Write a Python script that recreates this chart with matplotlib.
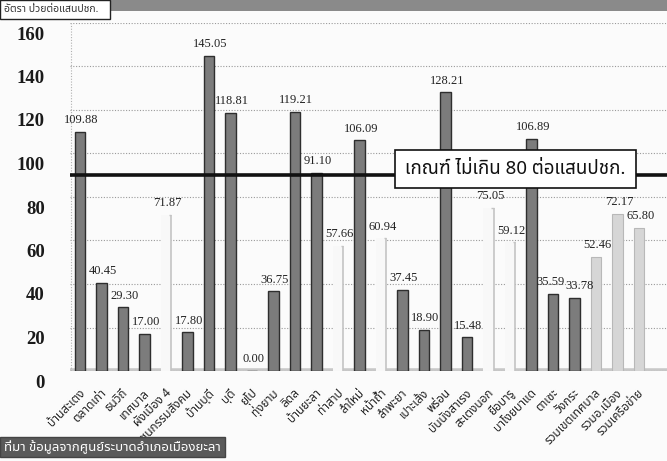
import matplotlib
matplotlib.use('Agg')
import matplotlib.pyplot as plt
from matplotlib import font_manager
from matplotlib.ft2font import FT2Font
import matplotlib.transforms as mtransforms
from matplotlib.patches import Rectangle

# ---------------- data ----------------
categories = ['บ้านสะเตง', 'ตลาดเก่า', 'ธนวิถี', 'เทศบาล', 'ผังเมือง 4', 'ชุมชนกรรมสังคม',
              'บ้านบุดี', 'บุดี', 'ยุโป', 'ทุ่งยาม', 'ลิดล', 'บ้านยะลา', 'ท่าสาป', 'ลำใหม่',
              'หน้าถ้ำ', 'ลำพะยา', 'เปาะเส้ง', 'พร่อน', 'บันนังสาเรง', 'สะเตงนอก', 'ยือบารู',
              'บาโงยบาแด', 'ตาเซะ', 'วังกระ', 'รวมเขตเทศบาล', 'รวมอ.เมือง', 'รวมเครือข่าย']
values = [109.88, 40.45, 29.30, 17.00, 71.87, 17.80, 145.05, 118.81, 0.00, 36.75,
          119.21, 91.10, 57.66, 106.09, 60.94, 37.45, 18.90, 128.21, 15.48, 75.05,
          59.12, 106.89, 35.59, 33.78, 52.46, 72.17, 65.80]
yticks = [0, 20, 40, 60, 80, 100, 120, 140, 160]
criterion_level = 90
criterion_text = 'เกณฑ์ ไม่เกิน 80 ต่อแสนปชก.'
unit_text = 'อัตรา ป่วยต่อแสนปชก.'
source_text = 'ที่มา ข้อมูลจากศูนย์ระบาดอำเภอเมืองยะลา'
# bar style groups: 'd' dark, 'w' near-white, 'l' light grey
bar_style = ['d', 'd', 'd', 'd', 'w', 'd', 'd', 'd', 'd', 'd', 'd', 'd', 'w', 'd',
             'w', 'd', 'd', 'd', 'd', 'w', 'w', 'd', 'd', 'd', 'l', 'l', 'l']
# small horizontal nudges (pixels) for value labels that would collide
label_nudge = {22: -3.5, 23: 3.5}


def find_thai_font():
    prefs = ['Noto Sans Thai', 'Noto Serif Thai', 'Noto Sans Thai Looped', 'Loma', 'Garuda',
             'Norasi', 'Tlwg Typo', 'Kinnari', 'Sarabun', 'Tahoma', 'Leelawadee']
    found = {}
    for f in font_manager.fontManager.ttflist:
        try:
            cm = FT2Font(f.fname).get_charmap()
            if 0x0E01 in cm and 0x0E40 in cm:
                found.setdefault(f.name, f.fname)
        except Exception:
            pass
    for p in prefs:
        if p in found:
            return p
    if found:
        return sorted(found)[0]
    return None


thai = find_thai_font()
thai_fam = [thai, 'DejaVu Sans'] if thai else ['DejaVu Sans']
serif = 'Liberation Serif'

W, H = 667, 461
fig = plt.figure(figsize=(W / 100, H / 100), dpi=100, facecolor='#fbfbfb')

left_px, right_px, bot_px, top_px = 70, 667, 371, 23
ax = fig.add_axes([left_px / W, (H - bot_px) / H, (right_px - left_px) / W, (bot_px - top_px) / H])
ax.set_facecolor('none')

x = list(range(len(values)))
spacing = 21.5
ax.set_xlim((left_px - 80) / spacing, (right_px - 80) / spacing)
ax.set_ylim(0, 160)

bw = 0.47
for xi, v, s in zip(x, values, bar_style):
    if s == 'd':
        ax.bar(xi, v, width=bw, color='#7c7c7c', edgecolor='#2e2e2e', linewidth=1.0, zorder=3)
    elif s == 'l':
        ax.bar(xi, v, width=bw, color='#d6d6d6', edgecolor='#b8b8b8', linewidth=0.8, zorder=3)
    else:
        ax.bar(xi, v, width=bw, color='#f8f8f8', edgecolor='none', zorder=3)
        ax.vlines(xi + bw / 2, 0, v, color='#c4c4c4', linewidth=1.2, zorder=3)
        ax.hlines(v, xi + bw / 4, xi + bw / 2, color='#c4c4c4', linewidth=1.0, zorder=3)

for xi, v in zip(x, values):
    dx = 1 + label_nudge.get(xi, 0) * 0.72
    ax.annotate(f'{v:.2f}', (xi, v), xytext=(dx, 4), textcoords='offset points',
                ha='center', va='bottom', fontsize=9, family=serif, color='#222222', zorder=5)

# grid
ax.set_yticks(yticks)
ax.yaxis.grid(True, linestyle=(0, (1, 1.5)), color='#9a9a9a', linewidth=0.8, zorder=0)
ax.axhline(0, color='#c8c8c8', linewidth=4, zorder=1)
for sp in ax.spines.values():
    sp.set_visible(False)
ax.axvline(ax.get_xlim()[0] + 0.05, color='#b0b0b0', linestyle=(0, (1, 1.5)), linewidth=0.8)

ax.tick_params(axis='y', length=0, pad=18, labelsize=13.5)
ax.tick_params(axis='x', length=0)
ax.set_xticks(x)
ax.set_xticklabels([])
off = mtransforms.ScaledTranslation(0, -10 / 100, fig.dpi_scale_trans)
for lbl in ax.get_yticklabels():
    lbl.set_fontfamily(serif)
    lbl.set_fontweight('bold')
    lbl.set_color('#1a1a1a')
    lbl.set_transform(lbl.get_transform() + off)

# category labels
trans = mtransforms.blended_transform_factory(ax.transData, ax.transAxes)
coff = mtransforms.ScaledTranslation(3 / 100, -20 / 100, fig.dpi_scale_trans)
for xi, c in zip(x, categories):
    ax.text(xi, 0, c, transform=trans + coff, rotation=45, rotation_mode='anchor',
            ha='right', va='center', fontsize=8.5, family=thai_fam, color='#222222')

# criterion line and box
ax.axhline(criterion_level, color='#111111', linewidth=2.6, zorder=6)
fig.text(405 / W, 1 - 169 / H, criterion_text, fontsize=13.5, family=thai_fam, color='#111111',
         ha='left', va='center', zorder=10,
         bbox=dict(boxstyle='square,pad=0.55', facecolor='white', edgecolor='#111111', linewidth=1.2))

# top band and unit label
fig.patches.append(Rectangle((0, 1 - 11 / H), 1, 11 / H, transform=fig.transFigure,
                             facecolor='#8a8a8a', edgecolor='none', zorder=1))
fig.patches.append(Rectangle((0, 1 - 19 / H), 110 / W, 19 / H, transform=fig.transFigure,
                             facecolor='white', edgecolor='#222222', linewidth=1, zorder=2))
fig.text(4 / W, 1 - 10 / H, unit_text, fontsize=7.5, family=thai_fam, color='#333333',
         ha='left', va='center', zorder=3)

# source box
fig.patches.append(Rectangle((0, 1 - 457 / H), 225 / W, 20 / H, transform=fig.transFigure,
                             facecolor='#5a5a5a', edgecolor='#444444', linewidth=1, zorder=1))
fig.text(4 / W, 1 - 447 / H, source_text, fontsize=9.5, family=thai_fam, color='white',
         fontweight='bold', ha='left', va='center', zorder=3)

fig.savefig('out.png', dpi=100, facecolor=fig.get_facecolor())
